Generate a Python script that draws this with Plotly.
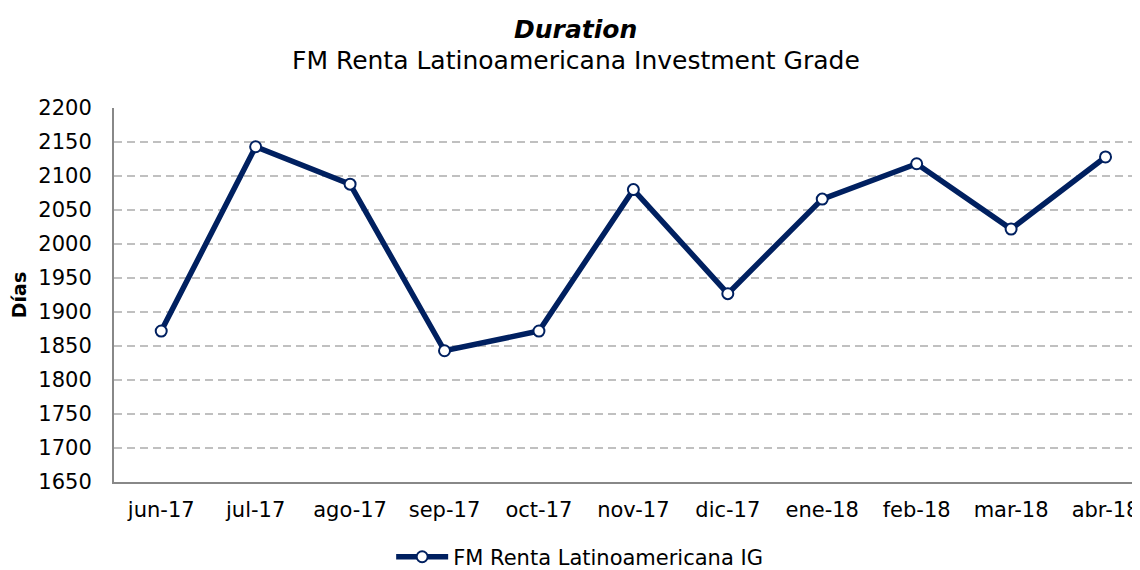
import plotly.graph_objects as go

months = ["jun-17", "jul-17", "ago-17", "sep-17", "oct-17", "nov-17",
          "dic-17", "ene-18", "feb-18", "mar-18", "abr-18"]
duration_days = [1872, 2143, 2088, 1843, 1872, 2080, 1927, 2066, 2118, 2022, 2128]
series_name = "FM Renta Latinoamericana IG"
y_ticks = list(range(1650, 2201, 50))
title_main = "Duration"
title_sub = "FM Renta Latinoamericana Investment Grade"
y_title = "Días"

NAVY = "#002060"
FONT = "DejaVu Sans, Verdana, sans-serif"

fig = go.Figure()
fig.add_trace(go.Scatter(
    x=months, y=duration_days, name=series_name,
    mode="lines+markers",
    line=dict(color=NAVY, width=5.5),
    marker=dict(symbol="circle", size=11, color="white",
                line=dict(color=NAVY, width=2)),
))

fig.add_annotation(text=f"<b><i>{title_main}</i></b>", xref="paper", yref="paper",
                   x=0.450, y=1.2112, xanchor="center", yanchor="middle",
                   showarrow=False, font=dict(family=FONT, size=25, color="#000000"))
fig.add_annotation(text=title_sub, xref="paper", yref="paper",
                   x=0.450, y=1.1257, xanchor="center", yanchor="middle",
                   showarrow=False, font=dict(family=FONT, size=25, color="#000000"))

fig.update_layout(
    width=1132, height=562,
    paper_bgcolor="white", plot_bgcolor="white",
    font=dict(family=FONT, size=21, color="#000000"),
    margin=dict(l=106, r=0, t=100, b=88),
    showlegend=True,
    legend=dict(orientation="h", xref="container", x=0.505, xanchor="center",
                yref="container", y=0.023, yanchor="middle", itemwidth=52,
                font=dict(family=FONT, size=21)),
    xaxis=dict(
        type="category", range=[-0.5, 10.365],
        showgrid=False, showline=True, linecolor="#888888", linewidth=2,
        ticks="", tickfont=dict(size=21), ticklabelstandoff=8,
        automargin=False,
    ),
    yaxis=dict(
        range=[1650, 2200], tickvals=y_ticks,
        showgrid=True, gridcolor="#c0c0c0", gridwidth=1.5, griddash="8px,5px",
        showline=True, linecolor="#888888", linewidth=2,
        ticks="", tickfont=dict(size=21), ticklabelstandoff=16,
        zeroline=False, automargin=False,
        title=dict(text=f"<b>{y_title}</b>", font=dict(size=19), standoff=11),
    ),
)

fig.write_html("out.html")
